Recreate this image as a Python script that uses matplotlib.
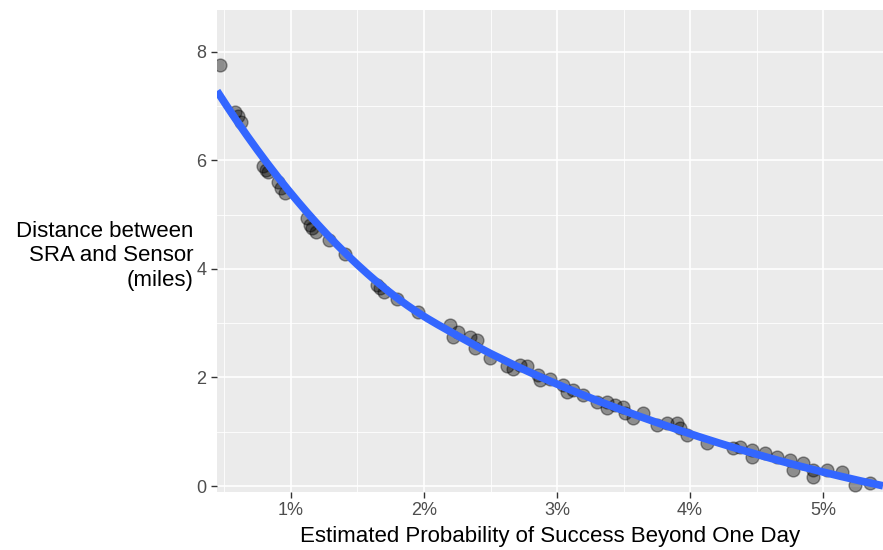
import matplotlib
matplotlib.use("Agg")
import matplotlib.pyplot as plt
import numpy as np
from matplotlib.ticker import FuncFormatter, MultipleLocator

plt.rcParams['font.family'] = ['Liberation Sans', 'DejaVu Sans']

# estimated probability of success beyond one day (percent) and distance (miles)
prob_pct = [0.466, 0.579, 0.602, 0.624, 0.789, 0.812, 0.827, 0.902, 0.925, 0.955,
            1.120, 1.143, 1.158, 1.188, 1.286, 1.406, 1.647, 1.669, 1.699, 1.797,
            1.955, 2.195, 2.218, 2.256, 2.346, 2.398, 2.383, 2.496, 2.624, 2.669,
            2.722, 2.774, 2.857, 2.872, 2.947, 3.045, 3.075, 3.120, 3.195, 3.301,
            3.376, 3.376, 3.436, 3.496, 3.511, 3.571, 3.647, 3.752, 3.827, 3.902,
            3.925, 3.977, 4.128, 4.323, 4.376, 4.466, 4.466, 4.564, 4.654, 4.752,
            4.774, 4.850, 4.925, 4.925, 5.030, 5.143, 5.241, 5.353]
distance = [7.75, 6.89, 6.81, 6.70, 5.89, 5.82, 5.78, 5.60, 5.49, 5.40,
            4.94, 4.81, 4.75, 4.68, 4.53, 4.27, 3.70, 3.65, 3.57, 3.44,
            3.20, 2.97, 2.74, 2.84, 2.74, 2.69, 2.54, 2.36, 2.21, 2.15,
            2.23, 2.21, 2.04, 1.95, 1.97, 1.86, 1.73, 1.77, 1.68, 1.55,
            1.55, 1.44, 1.49, 1.45, 1.34, 1.25, 1.34, 1.12, 1.16, 1.16,
            1.07, 0.94, 0.79, 0.70, 0.72, 0.66, 0.53, 0.61, 0.53, 0.48,
            0.29, 0.42, 0.29, 0.17, 0.29, 0.26, 0.02, 0.06]

x = np.array(prob_pct) / 100
y = np.array(distance)

xlim = (0.00444, 0.0545)
ylim = (-0.11, 8.77)


def loess(x, y, xs, span=0.75):
  """local quadratic fit with tricube weights (like geom_smooth)"""
  n = len(x)
  q = int(np.ceil(span * n))
  out = []
  for x0 in xs:
    d = np.abs(x - x0)
    h = np.sort(d)[q - 1]
    w = np.clip(1 - (d / h) ** 3, 0, None) ** 3
    X = np.vstack([np.ones(n), x - x0, (x - x0) ** 2]).T
    W = np.diag(w)
    beta = np.linalg.solve(X.T @ W @ X, X.T @ W @ y)
    out.append(beta[0])
  return np.array(out)


fig = plt.figure(figsize=(8.83, 5.5), dpi=100)
ax = fig.add_axes([217/883, 58/550, 666/883, 482/550])
ax.set_facecolor('#EBEBEB')
for s in ax.spines.values():
  s.set_visible(False)

ax.xaxis.set_major_locator(MultipleLocator(0.01))
ax.xaxis.set_minor_locator(MultipleLocator(0.005))
ax.yaxis.set_major_locator(MultipleLocator(2))
ax.yaxis.set_minor_locator(MultipleLocator(1))
ax.xaxis.set_major_formatter(FuncFormatter(lambda v, p: f"{v*100:.0f}%"))
ax.grid(which='major', color='white', lw=1.2)
ax.grid(which='minor', color='white', lw=0.6)
ax.set_axisbelow(True)
ax.tick_params(which='major', length=4, color='#333333', labelcolor='#4D4D4D',
               labelsize=13, width=1)
ax.tick_params(which='minor', length=0)

ax.scatter(x, y, s=85, facecolor='black', edgecolor='black', alpha=0.4,
           linewidth=1, zorder=2)

# smooth trend
xs = np.linspace(xlim[0], xlim[1], 200)
ax.plot(xs, loess(x, y, xs), color='#3366FF', lw=5.5, zorder=3,
        solid_capstyle='butt')

ax.set_xlim(*xlim)
ax.set_ylim(*ylim)

ax.set_xlabel('Estimated Probability of Success Beyond One Day', fontsize=16,
              labelpad=5)
ax.set_ylabel('Distance between\nSRA and Sensor\n(miles)', fontsize=16,
              rotation=0, ha='right', va='center', multialignment='right')
ax.yaxis.set_label_coords(-0.036, 0.49)

fig.savefig('out.png', dpi=100)
